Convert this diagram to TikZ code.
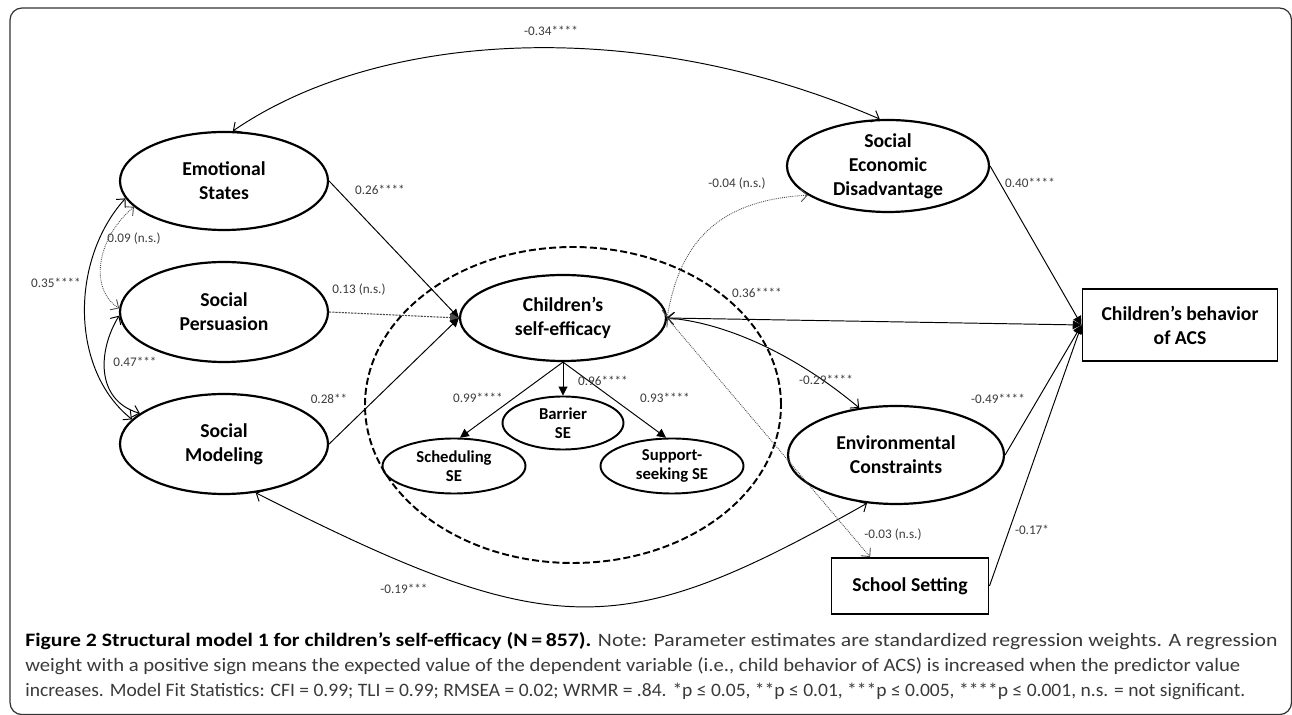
\documentclass[tikz,border=0pt]{standalone}
\usepackage{fontspec}
\setmainfont{Carlito}
\usepackage{graphicx}
\usetikzlibrary{arrows.meta,shapes.geometric}
\newlength{\pxu}
\setlength{\pxu}{0.02cm}
\definecolor{lbl}{HTML}{3C3C3C}
\definecolor{captxt}{HTML}{3A3A3A}
\definecolor{framec}{HTML}{333333}
\definecolor{dotc}{HTML}{4A4A4A}
\begin{document}
\begin{tikzpicture}[x=0.02cm,y=-0.02cm,
  lat/.style={ellipse, draw, line width=1.25pt, inner sep=0pt, align=center,
    minimum width=208\pxu, minimum height=98\pxu,
    font=\fontsize{11.2}{13.6}\selectfont\bfseries},
  sub/.style={ellipse, draw, line width=1.1pt, inner sep=0pt, align=center,
    minimum width=143\pxu, minimum height=55\pxu,
    font=\fontsize{9.5}{10.8}\selectfont\bfseries},
  obs/.style={rectangle, draw, line width=1.1pt, inner sep=0pt, align=center,
    font=\fontsize{11.2}{13.6}\selectfont\bfseries},
  lab/.style={font=\fontsize{7.5}{9}\selectfont, text=lbl, inner sep=0pt},
  reg/.style={line width=0.55pt, -{Triangle[length=5pt,width=5pt]}},
  cor/.style={line width=0.55pt, {Straight Barb[length=3.6pt,width=7pt]}-{Straight Barb[length=3.6pt,width=7pt]}},
  dots/.style={draw=dotc, dash pattern=on 0.5pt off 0.6pt, line width=0.5pt},
  finedash/.style={draw=dotc, dash pattern=on 1.2pt off 0.6pt, line width=0.6pt},
  grpline/.style={dash pattern=on 4pt off 1.8pt, line width=1.1pt},
  capline/.style={anchor=base west, inner sep=0pt, text=captxt, font=\fontsize{10.8}{13}\selectfont}
]
\useasboundingbox (0,0) rectangle (1292,715);
\fill[white] (0,0) rectangle (1292,715);
\draw[framec, line width=0.7pt, rounded corners=12\pxu] (10,8) rectangle (1291.5,714.6);

% latent variables
\node[lat] (es) at (224,181) {Emotional\\States};
\node[lat, minimum height=100\pxu] (sp) at (224,312) {Social\\Persuasion};
\node[lat, minimum height=100\pxu] (sm) at (224,444) {Social\\Modeling};
\node[lat, minimum width=206\pxu, minimum height=86\pxu] (se) at (563,318) {Children’s\\self-efficacy};
\node[sub, minimum width=121\pxu, minimum height=53\pxu] (bar) at (563,423) {Barrier\\SE};
\node[sub] (sch) at (454,466) {Scheduling\\SE};
\node[sub] (sup) at (672,466) {Support-\\seeking SE};
\node[ellipse, draw, grpline, minimum width=416\pxu, minimum height=316\pxu] (grp) at (573,405) {};
\node[lat, minimum width=202\pxu, minimum height=92\pxu] (sed) at (888,166) {Social\\Economic\\Disadvantage};
\node[lat, minimum width=216\pxu, minimum height=98\pxu] (env) at (896,455) {Environmental\\Constraints};
\node[obs, minimum width=195\pxu, minimum height=72\pxu] (acs) at (1180,325) {Children’s behavior\\of ACS};
\node[obs, minimum width=157\pxu, minimum height=56\pxu] (school) at (910,586) {School Setting};

% regression paths
\draw[reg] (es.east) -- (se.west);
\draw[reg, finedash] (sp.east) -- (se.west);
\draw[reg] (sm.east) -- (se.west);
\draw[reg] (se.south) -- (bar.north);
\draw[reg] (se.south) -- (sch.78);
\draw[reg] (se.south) -- (sup.102);
\draw[reg] (se.east) -- (acs.west);
\draw[reg] (sed.east) -- (acs.west);
\draw[reg] (env.east) -- (acs.west);
\draw[reg] (school.east) -- (acs.west);

% correlations
\draw[cor] (es.80) .. controls (380,30) and (640,15) .. (sed.100);
\draw[cor] (es.190) .. controls (70,260) and (70,370) .. (sm.165);
\draw[cor, dots] (es.196) .. controls (95,240) and (90,290) .. (sp.178);
\draw[cor] (sp.182) .. controls (98,350) and (95,400) .. (sm.160);
\draw[cor] (sm.-57) .. controls (554,644) and (621,642) .. (env.-121);
\draw[cor, dots] (se.east) .. controls (680,240) and (720,200) .. (sed.200);
\draw[cor] (se.east) .. controls (720,322) and (790,350) .. (env.128);
\draw[cor, dots] (se.east) -- (school.144);

% labels
\node[lab] (l34) at (551,31) {-0.34****};
\node[lab] (l26) at (380,190) {0.26****};
\node[lab] (l09) at (134,239) {0.09 (n.s.)};
\node[lab] (l35) at (56,283) {0.35****};
\node[lab] (l13) at (359,290) {0.13 (n.s.)};
\node[lab] (l47) at (135,362) {0.47***};
\node[lab] (l28) at (329,399) {0.28**};
\node[lab] (l19) at (404,589) {-0.19***};
\node[lab] (l99) at (478,398) {0.99****};
\node[lab] (l96) at (603,381) {0.96****};
\node[lab] (l93) at (665,398) {0.93****};
\node[lab] (l36) at (757,293) {0.36****};
\node[lab] (l04) at (737,184) {-0.04 (n.s.)};
\node[lab] (l40) at (1030,183) {0.40****};
\node[lab] (l29) at (826,380) {-0.29****};
\node[lab] (l49) at (998,399) {-0.49****};
\node[lab] (l03) at (893,535) {-0.03 (n.s.)};
\node[lab] (l17) at (1032,530) {-0.17*};

% caption
\node[capline] (cap1) at (25,647) {\resizebox{1252\pxu}{\height}{\textcolor{black}{\bfseries Figure 2 Structural model 1 for children’s self-efficacy (N\,=\,857).} Note: Parameter estimates are standardized regression weights. A regression}};
\node[capline] (cap2) at (25,672) {\resizebox{1215\pxu}{\height}{weight with a positive sign means the expected value of the dependent variable (i.e., child behavior of ACS) is increased when the predictor value}};
\node[capline] (cap3) at (25,697) {\resizebox{1220\pxu}{\height}{increases. Model Fit Statistics: CFI = 0.99; TLI = 0.99; RMSEA = 0.02; WRMR = .84. *p ≤ 0.05, **p ≤ 0.01, ***p ≤ 0.005, ****p ≤ 0.001, n.s. = not significant.}};
\end{tikzpicture}
\end{document}
